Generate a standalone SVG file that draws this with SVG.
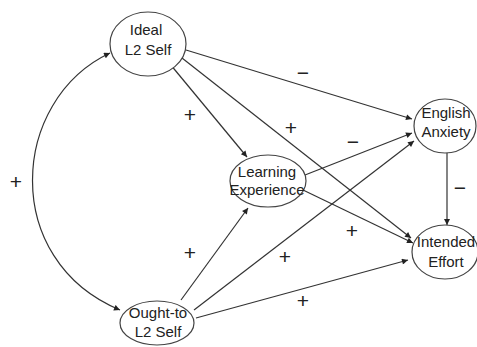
<svg xmlns="http://www.w3.org/2000/svg" width="477" height="347" viewBox="0 0 477 347">
  <defs>
    <marker id="arr" viewBox="0 0 10 10" refX="10" refY="5" markerWidth="8" markerHeight="6" markerUnits="userSpaceOnUse" orient="auto-start-reverse">
      <path d="M0,0 L10,5 L0,10 Z" fill="#222"/>
    </marker>
  </defs>
  <style>
    .node ellipse { fill: #fff; stroke: #444; stroke-width: 1.2; }
    .node text, .lbl { font-family: "Liberation Sans", Arial, sans-serif; font-size: 15px; fill: #222; text-anchor: middle; }
    .lbl { font-size: 21px; }
    .edge { fill: none; stroke: #333; stroke-width: 1.2; marker-end: url(#arr); }
  </style>
  <rect width="477" height="347" fill="#fff"/>

  <g id="connectors">
    <path class="edge" d="M110,53 C10,100 0,260 120,310" marker-start="url(#arr)"/>
    <line class="edge" x1="186" y1="50" x2="412" y2="119"/>
    <line class="edge" x1="170" y1="64" x2="247" y2="157"/>
    <line class="edge" x1="182" y1="58" x2="411" y2="238"/>
    <line class="edge" x1="305" y1="175" x2="412" y2="133"/>
    <line class="edge" x1="303" y1="190" x2="413" y2="243"/>
    <line class="edge" x1="447" y1="153" x2="447" y2="225"/>
    <line class="edge" x1="181" y1="300" x2="248" y2="208"/>
    <line class="edge" x1="194" y1="310" x2="414" y2="141"/>
    <line class="edge" x1="196" y1="318" x2="408" y2="260"/>
  </g>

  <g id="labels">
    <text class="lbl" x="16" y="189">+</text>
    <text class="lbl" x="303" y="80">−</text>
    <text class="lbl" x="190" y="122">+</text>
    <text class="lbl" x="291" y="135">+</text>
    <text class="lbl" x="353" y="149">−</text>
    <text class="lbl" x="352" y="238">+</text>
    <text class="lbl" x="460" y="195">−</text>
    <text class="lbl" x="190" y="260">+</text>
    <text class="lbl" x="285" y="264">+</text>
    <text class="lbl" x="303" y="308">+</text>
  </g>

  <g id="ideal-l2-self" class="node">
    <ellipse cx="148" cy="44" rx="38" ry="32"/>
    <text x="146" y="35">Ideal</text>
    <text x="148" y="55">L2 Self</text>
  </g>
  <g id="learning-experience" class="node">
    <ellipse cx="268" cy="181" rx="38" ry="26"/>
    <text x="267" y="177">Learning</text>
    <text x="267" y="195">Experience</text>
  </g>
  <g id="english-anxiety" class="node">
    <ellipse cx="445" cy="126" rx="31" ry="27"/>
    <text x="446" y="118">English</text>
    <text x="446" y="137">Anxiety</text>
  </g>
  <g id="intended-effort" class="node">
    <ellipse cx="445" cy="252" rx="33" ry="27"/>
    <text x="446" y="247">Intended</text>
    <text x="446" y="267">Effort</text>
  </g>
  <g id="ought-to-l2-self" class="node">
    <ellipse cx="157" cy="323" rx="37" ry="22"/>
    <text x="158" y="318">Ought-to</text>
    <text x="158" y="337">L2 Self</text>
  </g>
</svg>
